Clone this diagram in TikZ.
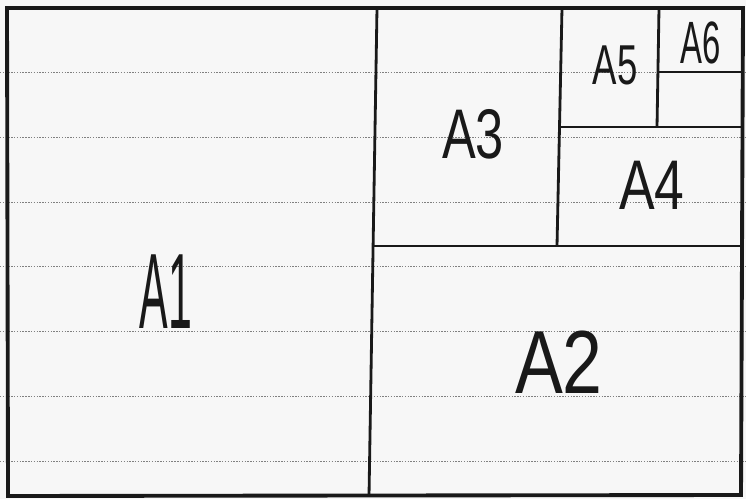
\documentclass[tikz,border=0pt]{standalone}
\usepackage{fontspec}
\setmainfont{Liberation Sans}
\begin{document}
\begin{tikzpicture}[x=0.02cm,y=-0.02cm,
  frame/.style={line width=2.2pt,black!90},
  divider/.style={line width=1.6pt,black!90},
  ruled/.style={line width=0.5pt,black!50,dash pattern=on 0.8pt off 0.8pt},
  lbl/.style={font=\fontsize{#1}{#1}\selectfont,text=black!90,inner sep=0pt}]
\fill[black!3] (0,0) rectangle (746,499);
\useasboundingbox (0,0) rectangle (746,499);
% ruled notebook lines
\foreach \y in {72,137,202,266,331,396,461}
  \draw[ruled] (0,\y) -- (746,\y);
% outer frame
\coordinate (tl) at (7,8);
\coordinate (tr) at (743,8);
\coordinate (br) at (741,495);
\coordinate (bl) at (8,496);
\draw[frame] (tl) -- (tr) -- (br) -- (bl) -- cycle;
% A1 | rest
\coordinate (v1t) at (377,8);
\coordinate (v1b) at (369,496);
\draw[divider] (v1t) -- (v1b);
% A2 top edge
\coordinate (h1l) at (373,246);
\coordinate (h1r) at (742,246);
\draw[divider] (h1l) -- (h1r);
% A3 | A4/A5
\coordinate (v2t) at (562,8);
\coordinate (v2b) at (557,246);
\draw[divider] (v2t) -- (v2b);
% A4 top edge
\coordinate (h2l) at (561,127);
\coordinate (h2r) at (743,127);
\draw[divider] (h2l) -- (h2r);
% A5 | A6
\coordinate (v3t) at (659,8);
\coordinate (v3b) at (657,127);
\draw[divider] (v3t) -- (v3b);
% A6 bottom line
\coordinate (h3l) at (658,72);
\coordinate (h3r) at (743,72);
\draw[divider] (h3l) -- (h3r);
% labels
\node[lbl=61,xscale=0.4] (a1) at (166,292) {A1};
\node[lbl=51,xscale=0.8] (a2) at (559,362) {A2};
\node[lbl=40,xscale=0.72] (a3) at (473,134) {A3};
\node[lbl=40,xscale=0.76] (a4) at (652,185) {A4};
\node[lbl=32,xscale=0.65] (a5) at (615,65) {A5};
\node[lbl=34,xscale=0.55] (a6) at (701,43) {A6};
\end{tikzpicture}
\end{document}
